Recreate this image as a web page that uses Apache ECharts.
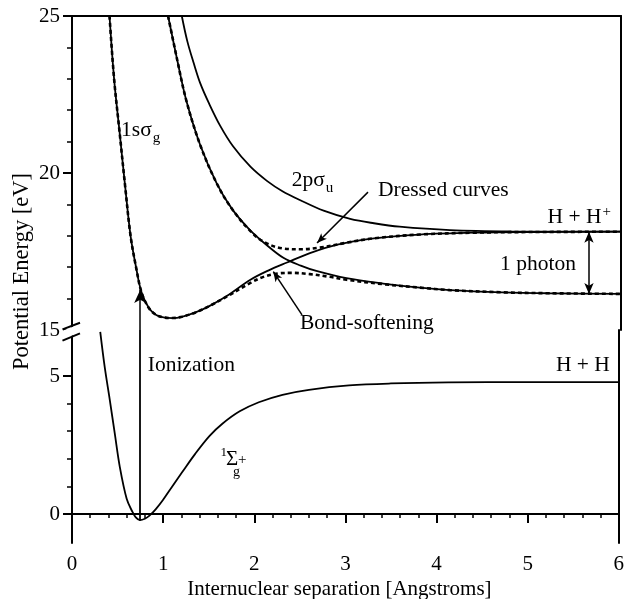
<!DOCTYPE html>
<html>
<head>
<meta charset="utf-8">
<script src="https://cdn.jsdelivr.net/npm/echarts@6/dist/echarts.min.js"></script>
<style>
  html, body { margin: 0; padding: 0; background: #fff; }
  #chart { width: 627px; height: 599px; }
</style>
</head>
<body>
<div id="chart"></div>
<script>
// ---- Potential energy curves of H2 / H2+ (R in Angstroms, E in eV) ----

// Neutral H2 ground state  1Σg+
const groundR = [0.31, 0.36, 0.415, 0.47, 0.525, 0.60, 0.66, 0.70, 0.745, 0.80, 0.85, 0.92, 1.00, 1.10, 1.21, 1.35, 1.51, 1.65, 1.84, 2.05, 2.31, 2.60, 3.04, 3.50, 4.13, 5.00, 6.00];
const groundE = [6.60, 5.30, 4.13, 2.90, 1.70, 0.55, 0.10, -0.12, -0.22, -0.17, -0.06, 0.18, 0.52, 1.00, 1.52, 2.17, 2.83, 3.27, 3.72, 4.05, 4.32, 4.50, 4.66, 4.73, 4.77, 4.78, 4.78];

// H2+  1sσg
const sgR = [0.41, 0.46, 0.52, 0.58, 0.64, 0.70, 0.76, 0.84, 0.92, 1.00, 1.10, 1.20, 1.35, 1.50, 1.70, 1.95, 2.15, 2.35, 2.60, 2.90, 3.30, 3.80, 4.40, 5.00, 6.00];
const sgE = [25.0, 23.0, 21.3, 19.6, 18.0, 17.0, 16.2, 15.7, 15.48, 15.40, 15.38, 15.42, 15.56, 15.76, 16.10, 16.60, 16.90, 17.15, 17.45, 17.72, 17.92, 18.04, 18.10, 18.12, 18.13];

// H2+  2pσu
const suR = [1.20, 1.26, 1.33, 1.40, 1.50, 1.62, 1.76, 1.95, 2.13, 2.30, 2.49, 2.75, 3.04, 3.30, 3.58, 4.13, 4.80, 6.00];
const suE = [25.0, 24.2, 23.5, 22.87, 22.2, 21.5, 20.85, 20.2, 19.75, 19.42, 19.14, 18.8, 18.54, 18.40, 18.29, 18.18, 18.14, 18.13];

// 2pσu shifted down by one photon
const suPhR = [1.05, 1.15, 1.25, 1.40, 1.58, 1.75, 1.94, 2.13, 2.31, 2.50, 2.67, 3.00, 3.40, 3.80, 4.13, 4.70, 5.22, 6.00];
const suPhE = [25.0, 23.6, 22.3, 20.9, 19.68, 18.85, 18.2, 17.7, 17.3, 17.05, 16.88, 16.65, 16.48, 16.35, 16.27, 16.20, 16.17, 16.15];

// Dressed (light-coupled) curves
const dressUpR = [1.05, 1.15, 1.25, 1.40, 1.58, 1.75, 1.95, 2.10, 2.30, 2.50, 2.70, 3.00, 3.30, 3.80, 4.40, 5.00, 6.00];
const dressUpE = [25.0, 23.6, 22.3, 20.9, 19.68, 18.85, 18.15, 17.8, 17.6, 17.57, 17.62, 17.78, 17.92, 18.04, 18.10, 18.12, 18.13];
const dressLoR = [0.41, 0.46, 0.52, 0.58, 0.64, 0.70, 0.76, 0.84, 0.92, 1.00, 1.10, 1.20, 1.35, 1.50, 1.70, 1.95, 2.10, 2.25, 2.40, 2.60, 2.80, 3.00, 3.40, 3.80, 4.13, 4.70, 5.22, 6.00];
const dressLoE = [25.0, 23.0, 21.3, 19.6, 18.0, 17.0, 16.2, 15.7, 15.48, 15.40, 15.38, 15.42, 15.56, 15.76, 16.08, 16.50, 16.70, 16.80, 16.82, 16.78, 16.70, 16.60, 16.46, 16.35, 16.27, 16.20, 16.17, 16.15];

// Arrows: [R, E] start and end points
const ionR = 0.745, ionFromE = -0.24, ionToE = 16.27;
const photonR = 5.65, photonLoE = 16.15, photonHiE = 18.13;
const dressedArrow = [[3.235, 19.39], [2.678, 17.77]];
const softArrow = [[2.514, 15.48], [2.20, 16.86]];

// Axis ticks
const xTicks = [0, 1, 2, 3, 4, 5, 6];
const upperMajor = [15, 20, 25];
const lowerMajor = [0, 5];
const lowerMinor = [1, 2, 3, 4];

const FONT = '"Liberation Serif", "Times New Roman", Times, serif';
const BLACK = '#000';
const TICK_FS = 21;
const NOTE_FS = 21.5;
const SUB_FS = 15;
const zip = (a, b) => a.map((v, i) => [v, b[i]]);

const el = document.getElementById('chart');
const chart = echarts.init(el, null, { renderer: 'canvas' });

const lineOf = (w) => ({ color: BLACK, width: w });
const hidden = { show: false };

const baseSeries = (name, data, x, y, extra) => Object.assign({
  name, type: 'line', data, xAxisIndex: x, yAxisIndex: y,
  showSymbol: false, symbol: 'none', smooth: 0.35, silent: true,
  lineStyle: { color: BLACK, width: 1.8 }, z: 3, animation: false
}, extra || {});

const arrowLine = (a, b, symA, symB, size) => [
  { coord: a, symbol: symA, symbolSize: size },
  { coord: b, symbol: symB, symbolSize: size }
];

const option = {
  backgroundColor: '#fff',
  animation: false,
  grid: [
    { left: 72, right: 6, top: 16, height: 314 },
    { left: 72, right: 6, top: 330, height: 213 }
  ],
  xAxis: [
    { gridIndex: 0, type: 'value', min: 0, max: 6, position: 'top',
      axisLine: { show: true, lineStyle: lineOf(2) }, axisTick: hidden, axisLabel: hidden, splitLine: hidden },
    { gridIndex: 1, type: 'value', min: 0, max: 6, interval: 1, position: 'bottom',
      axisLine: { show: true, lineStyle: lineOf(2) },
      axisTick: { show: true, length: 9, lineStyle: lineOf(2) },
      minorTick: { show: true, splitNumber: 5, length: 4, lineStyle: lineOf(1.5) },
      axisLabel: { show: true, fontFamily: FONT, fontSize: TICK_FS, color: BLACK, margin: 11,
        customValues: xTicks },
      splitLine: hidden }
  ],
  yAxis: [
    { gridIndex: 0, type: 'value', min: 15, max: 25, interval: 5, position: 'left',
      axisLine: { show: true, lineStyle: lineOf(2) },
      axisTick: { show: true, length: 9, lineStyle: lineOf(2), customValues: upperMajor },
      minorTick: { show: true, splitNumber: 5, length: 5, lineStyle: lineOf(1.5) },
      axisLabel: { show: true, fontFamily: FONT, fontSize: TICK_FS, color: BLACK, margin: 12,
        customValues: upperMajor },
      splitLine: hidden },
    { gridIndex: 0, type: 'value', min: 15, max: 25, position: 'right',
      axisLine: { show: true, lineStyle: lineOf(2) }, axisTick: hidden, axisLabel: hidden, splitLine: hidden },
    { gridIndex: 1, type: 'value', min: -1.05, max: 6.667, position: 'left',
      axisLine: { show: true, lineStyle: lineOf(2) },
      axisTick: { show: true, length: 9, lineStyle: lineOf(2), customValues: lowerMajor },
      axisLabel: { show: true, fontFamily: FONT, fontSize: TICK_FS, color: BLACK, margin: 12,
        customValues: lowerMajor },
      splitLine: hidden },
    { gridIndex: 1, type: 'value', min: -1.05, max: 6.667, position: 'left',
      axisLine: hidden,
      axisTick: { show: true, length: 5, lineStyle: lineOf(1.5), customValues: lowerMinor },
      axisLabel: hidden, splitLine: hidden },
    { gridIndex: 1, type: 'value', min: -1.05, max: 6.667, position: 'right',
      axisLine: { show: true, lineStyle: lineOf(2) }, axisTick: hidden, axisLabel: hidden, splitLine: hidden }
  ],
  series: [
    baseSeries('1Σg+', zip(groundR, groundE), 1, 2, {
      markLine: {
        silent: true, animation: false, label: hidden,
        lineStyle: { color: BLACK, width: 1.8, type: 'solid' },
        data: [arrowLine([ionR, ionFromE], [ionR, 6.667], 'none', 'none', 0)]
      }
    }),
    baseSeries('1sσg', zip(sgR, sgE), 0, 0, {
      markLine: {
        silent: true, animation: false, label: hidden,
        lineStyle: { color: BLACK, width: 1.5, type: 'solid' },
        data: [
          arrowLine([ionR, 15], [ionR, ionToE], 'none', 'arrow', [9, 13]),
          arrowLine([photonR, photonLoE], [photonR, photonHiE], 'arrow', 'arrow', [7, 11]),
          arrowLine(dressedArrow[0], dressedArrow[1], 'none', 'arrow', [6, 10]),
          arrowLine(softArrow[0], softArrow[1], 'none', 'arrow', [6, 10])
        ]
      }
    }),
    baseSeries('2pσu', zip(suR, suE), 0, 0),
    baseSeries('2pσu - ħω', zip(suPhR, suPhE), 0, 0),
    baseSeries('dressed upper', zip(dressUpR, dressUpE), 0, 0,
      { lineStyle: { color: BLACK, width: 2.6, type: [4, 3] }, z: 4 }),
    baseSeries('dressed lower', zip(dressLoR, dressLoE), 0, 0,
      { lineStyle: { color: BLACK, width: 2.6, type: [4, 3] }, z: 4 })
  ]
};

chart.setOption(option);

// ---- Text annotations (anchored in data space, sub/superscripts offset) ----
const measure = (() => {
  const ctx = document.createElement('canvas').getContext('2d');
  return (t, size) => { ctx.font = size + 'px ' + FONT; return ctx.measureText(t).width; };
})();

const notes = [
  { grid: 0, r: 0.536, e: 21.37, parts: [['1sσ', NOTE_FS, 0, 0], ['g', SUB_FS, 'after', 8]] },
  { grid: 0, r: 2.401, e: 19.78, parts: [['2pσ', NOTE_FS, 0, 0], ['u', SUB_FS, 'after', 8]] },
  { grid: 0, r: 3.344, e: 19.46, parts: [['Dressed curves', NOTE_FS, 0, 0]] },
  { grid: 0, r: 5.197, e: 18.58, parts: [['H + H', NOTE_FS, 0, 0], ['+', SUB_FS, 'after', -6]] },
  { grid: 0, r: 4.678, e: 17.10, parts: [['1 photon', NOTE_FS, 0, 0]] },
  { grid: 0, r: 2.492, e: 15.22, parts: [['Bond-softening', NOTE_FS, 0, 0]] },
  { grid: 1, r: 0.831, e: 5.40, parts: [['Ionization', NOTE_FS, 0, 0]] },
  { grid: 1, r: 5.311, e: 5.40, parts: [['H + H', NOTE_FS, 0, 0]] },
  { grid: 1, r: 1.691, e: 1.975, parts: [['Σ', 21, 0, 0], ['1', 13, -5.5, -7], ['g', 14, 7, 13], ['+', 15, 12, 0.5]] }
];

const graphics = [];
notes.forEach(n => {
  const [x0, y0] = chart.convertToPixel({ gridIndex: n.grid }, [n.r, n.e]);
  let cursor = x0;
  n.parts.forEach(([t, size, dx, dy], i) => {
    const x = dx === 'after' ? cursor + 1 : x0 + dx;
    graphics.push({
      type: 'text', x: x, y: y0 + dy, silent: true, z: 10,
      style: { text: t, fontFamily: FONT, fontSize: size, fill: BLACK, align: 'left', verticalAlign: 'middle' }
    });
    cursor = (i === 0 ? x0 : x) + measure(t, size);
  });
});

// Axis titles
const [gx0] = chart.convertToPixel({ gridIndex: 1 }, [0, 0]);
const [gx1, gyBottom] = chart.convertToPixel({ gridIndex: 1 }, [6, -1.05]);
const [, gyTop] = chart.convertToPixel({ gridIndex: 0 }, [0, 25]);
graphics.push({
  type: 'text', x: (gx0 + gx1) / 2 - 6, y: gyBottom + 46, silent: true,
  style: { text: 'Internuclear separation [Angstroms]', fontFamily: FONT, fontSize: TICK_FS, fill: BLACK,
    align: 'center', verticalAlign: 'middle' }
});
graphics.push({
  type: 'text', x: 22, y: (gyTop + gyBottom) / 2 - 8, rotation: Math.PI / 2, silent: true,
  style: { text: 'Potential Energy [eV]', fontFamily: FONT, fontSize: 22.5, fill: BLACK,
    align: 'center', verticalAlign: 'middle' }
});

// Axis break marks at the joint of the two panels
const [, yBreak] = chart.convertToPixel({ gridIndex: 0 }, [0, 15]);
const ax = gx0;
graphics.push({
  type: 'polygon', silent: true, z: 20,
  shape: { points: [[ax - 9, yBreak + 0.6], [ax + 8, yBreak - 6], [ax + 8, yBreak + 2.2], [ax - 9, yBreak + 9.6]] },
  style: { fill: '#fff' }
});
graphics.push({
  type: 'line', silent: true, z: 21,
  shape: { x1: ax - 9.5, y1: yBreak - 0.6, x2: ax + 8, y2: yBreak - 7.3 },
  style: { stroke: BLACK, lineWidth: 2 }
});
graphics.push({
  type: 'line', silent: true, z: 21,
  shape: { x1: ax - 9.5, y1: yBreak + 10.7, x2: ax + 8, y2: yBreak + 3.3 },
  style: { stroke: BLACK, lineWidth: 2 }
});

chart.setOption({ graphic: graphics });
</script>
</body>
</html>
